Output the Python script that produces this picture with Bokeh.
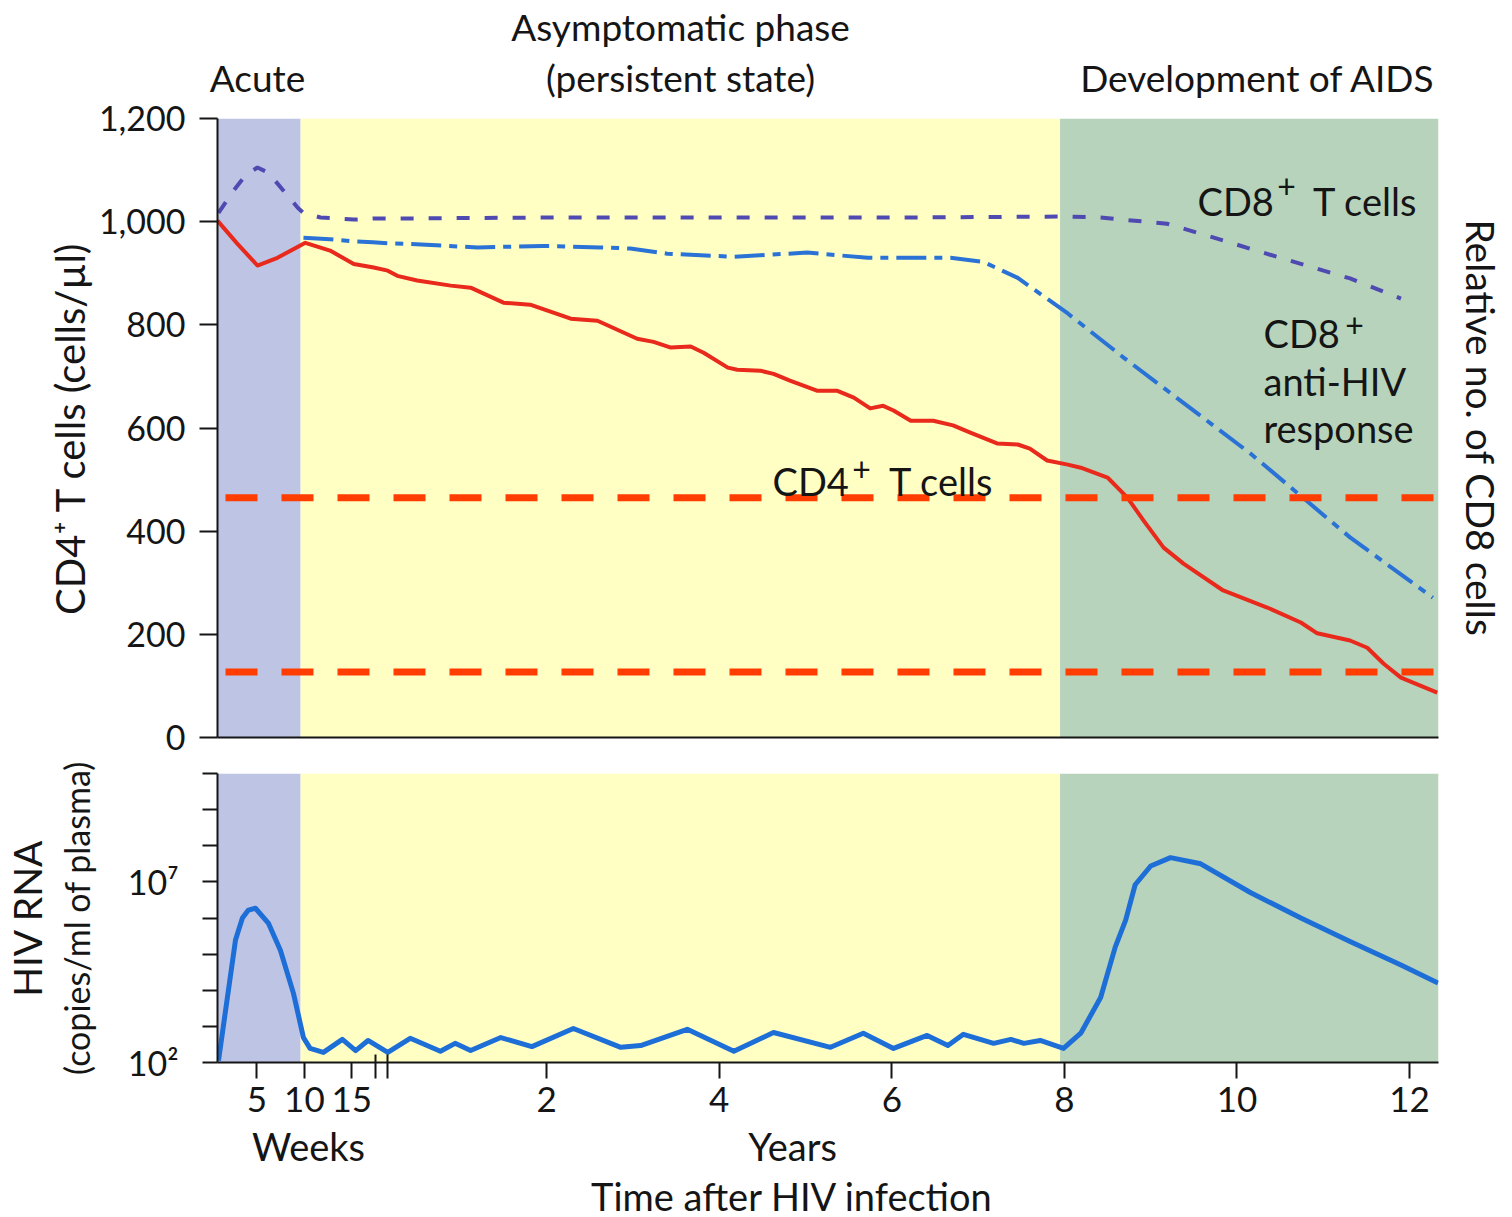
import math
from bokeh.plotting import figure
from bokeh.models import (Range1d, FixedTicker, BoxAnnotation, Label, Span, LinearAxis,
                          NumeralTickFormatter)
from bokeh.layouts import column
from bokeh.embed import file_html
from bokeh.resources import INLINE

FONT = "Lato"
INK = "#151515"

# ---------------- x axis: years are axis units, weeks section is compressed ----------------
WEEK_ORIGIN = -1.906   # axis position of week 0
WEEK_UNIT = 0.110      # axis units per week


def wk(ws):
    return [WEEK_ORIGIN + WEEK_UNIT * w for w in ws]


week_ticks = [5, 10, 15]
year_ticks = [2, 4, 6, 8, 10, 12]
axis_break_years = [0.02, 0.16]
x_start, x_end = -1.813, 12.335

# phases
acute_end_week = 9.6
aids_start_year = 7.95

# ---------------- CD4+ T cells (cells/ul) ----------------
cd4_weeks = [0.84, 2.95, 5.05, 7.16, 10.1, 12.7, 15.2, 17.3]
cd4_weeks_vals = [1002, 957, 915, 930, 959, 944, 918, 911]
cd4_years = [0.16, 0.27, 0.50, 0.89, 1.12, 1.50, 1.81, 2.28, 2.59, 3.05, 3.24, 3.44, 3.67,
             3.82, 4.10, 4.21, 4.48, 4.63, 4.82, 5.14, 5.37, 5.56, 5.75, 5.90, 6.02, 6.22,
             6.48, 6.71, 6.91, 7.22, 7.46, 7.60, 7.80, 8.04, 8.19, 8.50, 8.73, 8.92, 9.15,
             9.38, 9.84, 10.35, 10.74, 10.93, 11.31, 11.51, 11.70, 11.90, 12.32]
cd4_years_vals = [905, 895, 886, 876, 872, 843, 839, 812, 808, 773, 767, 756, 758,
                  746, 717, 713, 711, 705, 692, 672, 672, 659, 638, 643, 634, 614,
                  614, 605, 591, 570, 568, 560, 537, 529, 523, 504, 465, 420, 368,
                  337, 285, 252, 223, 202, 188, 174, 143, 116, 87]

# ---------------- CD8+ T cells (relative) ----------------
cd8_weeks = [0.95, 2.53, 3.8, 5.05, 6.2, 7.8, 9.3, 9.9, 11.7, 15.2, 17.2]
cd8_weeks_vals = [1017, 1060, 1090, 1105, 1095, 1060, 1027, 1017, 1008, 1004, 1006]
cd8_years = [0.16, 2, 4, 6, 8, 8.42, 9.19, 9.77, 10.54, 11.31, 11.90]
cd8_years_vals = [1006, 1008, 1008, 1008, 1010, 1008, 996, 967, 928, 890, 851]

# ---------------- CD8+ anti-HIV response (relative) ----------------
anti_weeks = [9.9, 12.7, 15.2, 17.2]
anti_weeks_vals = [969, 966, 962, 960]
anti_years = [0.16, 0.39, 1.20, 1.96, 2.62, 2.97, 3.40, 4.16, 5.02, 5.72, 6.68, 7.06,
              7.46, 8.04, 8.69, 10.16, 11.31, 12.27]
anti_years_vals = [958, 957, 950, 953, 950, 948, 938, 932, 940, 930, 930, 922,
                   891, 822, 736, 550, 388, 271]

# CD4 thresholds (dashed red)
threshold_levels = [465, 127]

# ---------------- HIV RNA (log10 copies/ml of plasma) ----------------
rna_weeks = [0.95, 2.74, 3.47, 4.1, 4.84, 6.2, 7.47, 8.84, 9.9, 10.6, 12.0, 14.0, 15.4, 16.7]
rna_weeks_log = [2.05, 5.39, 6.0, 6.22, 6.27, 5.86, 5.11, 3.92, 2.69, 2.39, 2.28, 2.64, 2.33, 2.61]
rna_years = [0.16, 0.42, 0.77, 0.94, 1.12, 1.47, 1.83, 2.31, 2.86, 3.09, 3.63, 4.17, 4.63,
             5.29, 5.67, 6.02, 6.41, 6.65, 6.83, 7.18, 7.38, 7.53, 7.72, 7.99, 8.19, 8.42,
             8.59, 8.71, 8.82, 9.0, 9.23, 9.58, 10.16, 10.74, 11.31, 11.9, 12.33]
rna_years_log = [2.28, 2.67, 2.31, 2.53, 2.33, 2.69, 2.44, 2.94, 2.42, 2.47, 2.92, 2.31, 2.83,
                 2.42, 2.81, 2.39, 2.75, 2.47, 2.78, 2.53, 2.64, 2.53, 2.61, 2.39, 2.81, 3.8,
                 5.2, 5.94, 6.92, 7.44, 7.67, 7.5, 6.7, 6.0, 5.35, 4.7, 4.2]
rna_decades = [2, 3, 4, 5, 6, 7, 8, 9, 10]
rna_labelled = {2: "10²", 7: "10⁷"}

# colours
C_ACUTE = "#BEC4E4"
C_ASYM = "#FFFFC4"
C_AIDS = "#B7D3BB"
C_CD4 = "#E8291C"
C_CD8 = "#4E4AB2"
C_ANTI = "#2A72D6"
C_RNA = "#1E6ED8"
C_THR = "#FF3D00"

W = 1506
xr = Range1d(x_start, x_end)

# page geometry (px)
HDR_H = 101          # header strip
P1_H = 654           # top panel figure   (frame 118..737)
P2_H = 375           # bottom panel figure (frame 773..1062)
FTR_H = 86           # footer strip
F_LEFT = 217
F1_BOTTOM = 737
BASE_FIX = 0.371     # alphabetic baseline correction (em) for Label


def lab(p, text, px, py, frame_left, frame_bottom, size=38, align="left",
        baseline="alphabetic", angle=0.0):
    y = frame_bottom - py
    if baseline == "alphabetic":
        y += BASE_FIX * size
    p.add_layout(Label(x=px - frame_left, y=y, x_units="screen", y_units="screen",
                       text=text, text_font=FONT, text_font_size=f"{size}px",
                       text_align=align, text_baseline=baseline, angle=angle,
                       text_color=INK))


def label_axis(p, side, text, size, standoff):
    ax = LinearAxis(ticker=FixedTicker(ticks=[], minor_ticks=[]), axis_line_color=None,
                    major_tick_line_color=None, minor_tick_line_color=None,
                    major_tick_out=0, major_tick_in=0, major_label_standoff=0,
                    axis_label=text, axis_label_standoff=standoff,
                    axis_label_text_font=FONT, axis_label_text_font_style="normal",
                    axis_label_text_font_size=f"{size}px", axis_label_text_color=INK)
    p.add_layout(ax, side)
    return ax


def phases(p):
    acute_x = wk([acute_end_week])[0]
    for l, r, c in [(x_start, acute_x, C_ACUTE), (acute_x, aids_start_year, C_ASYM),
                    (aids_start_year, x_end, C_AIDS)]:
        p.add_layout(BoxAnnotation(left=l, right=r, fill_color=c, fill_alpha=1.0,
                                   line_color=None, level="underlay"))


def style(p):
    p.grid.visible = False
    p.outline_line_color = None
    p.background_fill_color = "white"
    p.border_fill_color = "white"
    for ax in p.axis:
        ax.axis_line_width = 2
        ax.axis_line_color = INK
        ax.major_tick_line_width = 2
        ax.major_tick_line_color = INK
        ax.major_label_text_font = FONT
        ax.major_label_text_color = INK
        ax.major_label_text_font_size = "34px"
        ax.axis_label_text_font = FONT
        ax.axis_label_text_font_style = "normal"
        ax.axis_label_text_color = INK
        ax.axis_label_text_font_size = "38px"


def strip(height):
    s = figure(width=W, height=height, x_range=Range1d(0, 1), y_range=Range1d(0, 1),
               output_backend="svg", toolbar_location=None,
               x_axis_location=None, y_axis_location=None,
               min_border_left=0, min_border_right=0, min_border_top=0, min_border_bottom=0)
    s.frame_align = False
    s.grid.visible = False
    s.outline_line_color = None
    s.background_fill_color = "white"
    s.border_fill_color = "white"
    return s


# ================= header strip =================
hdr = strip(HDR_H)
lab(hdr, "Asymptomatic phase", 680, 40, 0, HDR_H, size=37, align="center")
lab(hdr, "(persistent state)", 680, 91, 0, HDR_H, size=37, align="center")
lab(hdr, "Acute", 257, 91, 0, HDR_H, size=37, align="center")
lab(hdr, "Development of AIDS", 1435, 91, 0, HDR_H, size=37, align="right")

# ================= top panel =================
p1 = figure(width=W, height=P1_H, x_range=xr, y_range=Range1d(0, 1200),
            output_backend="svg", toolbar_location=None,
            min_border_left=217, min_border_right=68, min_border_top=17, min_border_bottom=18)
style(p1)
phases(p1)
p1.xaxis.ticker = FixedTicker(ticks=[])
p1.xaxis.major_tick_out = 0
p1.xaxis.major_label_text_font_size = "0px"
p1.xaxis.minor_tick_line_color = None
p1.yaxis.ticker = FixedTicker(ticks=[0, 200, 400, 600, 800, 1000, 1200])
p1.yaxis.formatter = NumeralTickFormatter(format="0,0")
p1.yaxis.major_tick_out = 18
p1.yaxis.major_tick_in = 0
p1.yaxis.major_label_standoff = 14
p1.yaxis.minor_tick_line_color = None
p1.yaxis.axis_label = "CD4⁺ T cells (cells/µl)"
p1.yaxis.axis_label_text_font_size = "40px"
p1.yaxis.axis_label_standoff = 2

label_axis(p1, "right", "Relative no. of CD8 cells", 39, 19)

for lvl in threshold_levels:
    p1.add_layout(Span(location=lvl, dimension="width", line_color=C_THR, line_width=7,
                       line_dash="32 24", line_dash_offset=48))

p1.line(wk(cd8_weeks) + cd8_years, cd8_weeks_vals + cd8_years_vals,
        line_color=C_CD8, line_width=4, line_dash="13 15")
p1.line(wk(anti_weeks) + anti_years, anti_weeks_vals + anti_years_vals,
        line_color=C_ANTI, line_width=4, line_dash="30 8 8 8")
p1.line(wk(cd4_weeks) + cd4_years, cd4_weeks_vals + cd4_years_vals,
        line_color=C_CD4, line_width=4, line_join="round")

# in-plot labels
lab(p1, "CD8", 1197, 215, F_LEFT, F1_BOTTOM)
lab(p1, "+", 1286, 185, F_LEFT, F1_BOTTOM, size=32, align="center", baseline="middle")
lab(p1, "T cells", 1417, 215, F_LEFT, F1_BOTTOM, align="right")
lab(p1, "CD8", 1263, 347, F_LEFT, F1_BOTTOM)
lab(p1, "+", 1354, 324, F_LEFT, F1_BOTTOM, size=32, align="center", baseline="middle")
lab(p1, "anti-HIV", 1263, 395, F_LEFT, F1_BOTTOM)
lab(p1, "response", 1263, 442, F_LEFT, F1_BOTTOM)
lab(p1, "CD4", 772, 495, F_LEFT, F1_BOTTOM)
lab(p1, "+", 861, 468, F_LEFT, F1_BOTTOM, size=32, align="center", baseline="middle")
lab(p1, "T cells", 993, 495, F_LEFT, F1_BOTTOM, align="right")

# ================= bottom panel =================
p2 = figure(width=W, height=P2_H, x_range=xr, y_range=Range1d(10 ** 2, 10 ** 10),
            y_axis_type="log", output_backend="svg", toolbar_location=None,
            min_border_left=217, min_border_right=68, min_border_top=18, min_border_bottom=68)
style(p2)
phases(p2)

tick_pos = wk(week_ticks) + year_ticks
tick_txt = [str(w) for w in week_ticks] + [str(y) for y in year_ticks]
p2.xaxis.ticker = FixedTicker(ticks=tick_pos, minor_ticks=axis_break_years)
p2.xaxis.major_label_overrides = {t: s for t, s in zip(tick_pos, tick_txt)}
p2.xaxis.major_label_text_font_size = "35px"
p2.xaxis.major_tick_out = 16
p2.xaxis.major_tick_in = 0
p2.xaxis.minor_tick_out = 16
p2.xaxis.minor_tick_in = 8
p2.xaxis.minor_tick_line_width = 2
p2.xaxis.minor_tick_line_color = INK
p2.xaxis.major_label_standoff = 8

rna_ticks = [10 ** d for d in rna_decades]
p2.yaxis.ticker = FixedTicker(ticks=rna_ticks, minor_ticks=[])
p2.yaxis.major_label_overrides = {10 ** d: rna_labelled.get(d, "") for d in rna_decades}
p2.yaxis.major_tick_out = 15
p2.yaxis.major_tick_in = 0
p2.yaxis.major_label_standoff = 24
p2.yaxis.minor_tick_line_color = None
p2.yaxis.axis_label = "(copies/ml of plasma)"
p2.yaxis.axis_label_text_font_size = "34px"
p2.yaxis.axis_label_standoff = 28
label_axis(p2, "left", "HIV RNA", 39, 3)

p2.line(wk(rna_weeks) + rna_years, [10 ** v for v in rna_weeks_log + rna_years_log],
        line_color=C_RNA, line_width=5, line_join="round")

# ================= footer strip =================
ftr = strip(FTR_H)
FTR_TOP = HDR_H + P1_H + P2_H
lab(ftr, "Weeks", 308, 1160 - FTR_TOP, 0, FTR_H, size=38, align="center")
lab(ftr, "Years", 792, 1160 - FTR_TOP, 0, FTR_H, size=38, align="center")
lab(ftr, "Time after HIV infection", 792, 1210 - FTR_TOP, 0, FTR_H, size=38, align="center")

layout = column(hdr, p1, p2, ftr, spacing=0)
open("out.html", "w").write(file_html(layout, INLINE))
